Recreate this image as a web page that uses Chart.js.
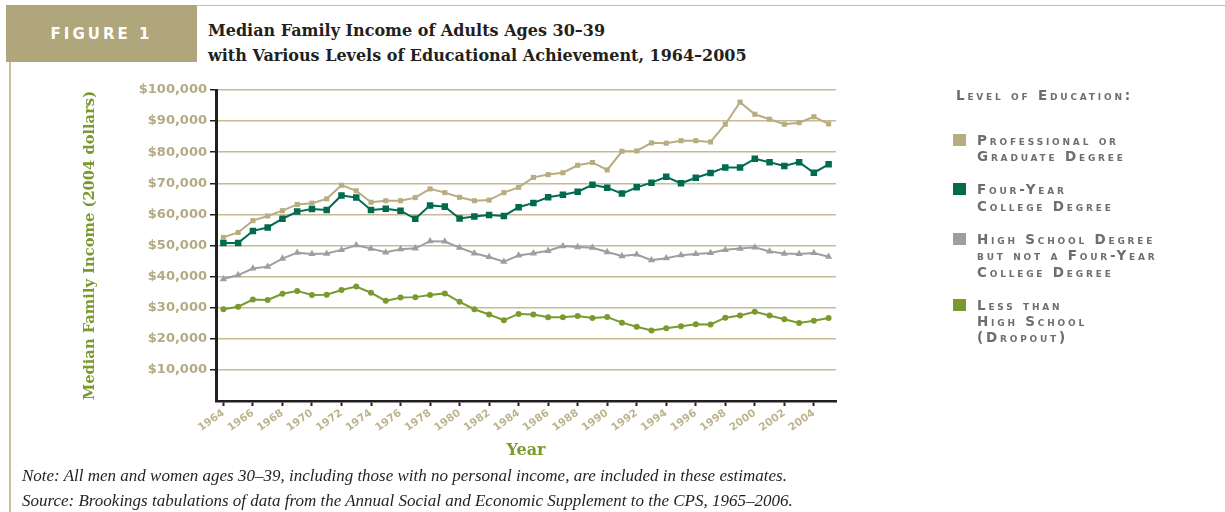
<!DOCTYPE html>
<html>
<head>
<meta charset="utf-8">
<script src="https://cdn.jsdelivr.net/npm/chart.js@4.4.0/dist/chart.umd.min.js"></script>
<style>
body{margin:0;background:#fff;width:1225px;height:512px;overflow:hidden;position:relative}
#grafico{position:absolute;left:0;top:0}
.figura{position:absolute;left:6px;top:5px;width:191px;height:57px;background:#b0a67b;color:#fff;font:bold 15px "DejaVu Sans";letter-spacing:3px;display:flex;align-items:center;justify-content:center}
.linea-top{position:absolute;left:197px;top:5px;right:0;height:1px;background:#c9bf9c}
.linea-izq{position:absolute;left:9px;top:62px;width:2px;bottom:0;background:#c9bf9c}
.titulo{position:absolute;left:208px;top:18px;font:bold 16px "DejaVu Serif";color:#231f20;line-height:25px}
.leyenda{position:absolute;left:953px;top:86px;color:#6d6e71;font:bold 13.5px "DejaVu Sans";font-variant:small-caps;letter-spacing:2.8px}
.leyenda .cab{line-height:18px;margin-bottom:28px;padding-left:3px}
.leyenda .item{display:flex;margin-bottom:16.6px;line-height:16.4px}
.leyenda .caja{width:13px;height:12px;margin-top:2px;margin-right:11px;flex:none}
.notas{position:absolute;left:22px;top:463px;font:italic 17px "Liberation Serif";color:#231f20;line-height:25px}
</style>
</head>
<body>
<div class="figura">FIGURE 1</div>
<div class="linea-top"></div>
<div class="linea-izq"></div>
<div class="titulo">Median Family Income of Adults Ages 30–39<br>with Various Levels of Educational Achievement, 1964–2005</div>
<canvas id="grafico" width="1225" height="512"></canvas>
<div class="leyenda" id="leyenda"></div>
<div class="notas">Note: All men and women ages 30–39, including those with no personal income, are included in these estimates.<br>Source: Brookings tabulations of data from the Annual Social and Economic Supplement to the CPS, 1965–2006.</div>
<script>
let anios = ["1964","1965","1966","1967","1968","1969","1970","1971","1972","1973","1974","1975","1976","1977",
  "1978","1979","1980","1981","1982","1983","1984","1985","1986","1987","1988","1989","1990","1991",
  "1992","1993","1994","1995","1996","1997","1998","1999","2000","2001","2002","2003","2004","2005"]

let profesional = [52600,54200,58000,59500,61200,63200,63600,65000,69400,67600,63900,64400,64400,65400,
  68200,67000,65500,64400,64600,67000,68700,71900,72800,73400,75800,76700,74300,80300,
  80400,83000,82900,83700,83700,83300,89000,96100,92200,90600,89000,89500,91400,89100]

let universidad = [50800,50800,54700,55800,58600,60900,61700,61400,66100,65400,61400,61800,61200,58600,
  62900,62500,58700,59300,59800,59500,62300,63700,65500,66300,67300,69500,68600,66700,
  68700,70200,72100,70000,71800,73300,75100,75100,77900,76800,75600,76800,73400,76100]

let secundaria = [39200,40500,42600,43200,45800,47700,47300,47400,48600,50100,49000,47800,48800,49100,
  51400,51300,49300,47500,46300,44800,46800,47500,48300,49800,49500,49300,47900,46600,
  47100,45300,45900,46900,47300,47600,48600,49000,49400,48100,47400,47300,47600,46400]

let desertores = [29500,30300,32600,32500,34500,35400,34100,34200,35700,36800,34800,32200,33300,33400,
  34100,34600,31900,29500,27800,26000,28000,27800,26900,26900,27300,26700,27000,25200,
  23900,22700,23400,24000,24700,24600,26800,27500,28700,27500,26300,25100,25800,26700]

let nombres = [
  ["Professional or","Graduate Degree"],
  ["Four-Year","College Degree"],
  ["High School Degree","but not a Four-Year","College Degree"],
  ["Less than","High School","(Dropout)"]
]

const tan = '#b8ad82'
const verdeOscuro = '#006b4f'
const gris = '#9d9ea2'
const verde = '#7a9a2e'
const oscuro = '#231f20'

let serie = (i, datos, color, estilo, radio) => ({
  label: nombres[i].join(' '),
  data: datos,
  borderColor: color,
  backgroundColor: color,
  borderWidth: 2,
  pointStyle: estilo,
  pointRadius: radio,
  pointBorderWidth: 0,
  tension: 0,
  fill: false
})

let grafico = new Chart(document.getElementById('grafico'), {
  type: 'line',
  data: {
    labels: anios,
    datasets: [
      serie(0, profesional, tan, 'rect', 3.6),
      serie(1, universidad, verdeOscuro, 'rect', 4.6),
      serie(2, secundaria, gris, 'triangle', 4.2),
      serie(3, desertores, verde, 'circle', 3)
    ]
  },
  options: {
    responsive: false,
    animation: false,
    layout: { padding: { left: 80, top: 90, right: 389, bottom: 52 } },
    plugins: { legend: { display: false }, tooltip: { enabled: false } },
    scales: {
      x: {
        offset: true,
        afterFit: s => { s.height = 59 },
        grid: {
          drawOnChartArea: false,
          tickLength: 5,
          tickWidth: 2,
          tickColor: ctx => ctx.index % 2 === 0 ? oscuro : 'rgba(0,0,0,0)'
        },
        border: { color: oscuro, width: 2.5 },
        ticks: {
          autoSkip: false,
          minRotation: 35,
          maxRotation: 35,
          padding: 1,
          color: '#bdb38c',
          font: { family: 'DejaVu Sans', weight: 'bold', size: 10.5 },
          callback: (v, i) => i % 2 === 0 ? anios[i] : ''
        },
        title: {
          display: true,
          text: 'Year',
          color: verde,
          padding: 0,
          font: { family: 'DejaVu Serif', weight: 'bold', size: 16 }
        }
      },
      y: {
        min: 0,
        max: 100000,
        afterFit: s => { s.width = 136 },
        grid: {
          color: ctx => ctx.tick && ctx.tick.value === 0 ? 'rgba(0,0,0,0)' : '#c6bb94',
          lineWidth: 1.5,
          tickLength: 6,
          tickWidth: 1.5,
          tickColor: ctx => ctx.tick && ctx.tick.value === 0 ? 'rgba(0,0,0,0)' : oscuro
        },
        border: { color: oscuro, width: 3 },
        ticks: {
          stepSize: 10000,
          padding: 3,
          color: '#b3a982',
          font: { family: 'DejaVu Sans', weight: 'bold', size: 13 },
          callback: v => v === 0 ? '' : '$' + v.toLocaleString('en-US')
        },
        title: {
          display: true,
          text: 'Median Family Income (2004 dollars)',
          color: verde,
          padding: 1,
          font: { family: 'DejaVu Serif', weight: 'bold', size: 14.7 }
        }
      }
    }
  }
})

// leyenda en html para poder usar versalitas
let leyenda = document.getElementById('leyenda')
let html = '<div class="cab">Level of Education:</div>'
grafico.data.datasets.forEach((d, i) => {
  html += `<div class="item"><div class="caja" style="background:${d.borderColor}"></div><div>${nombres[i].join('<br>')}</div></div>`
})
leyenda.innerHTML = html
</script>
</body>
</html>
